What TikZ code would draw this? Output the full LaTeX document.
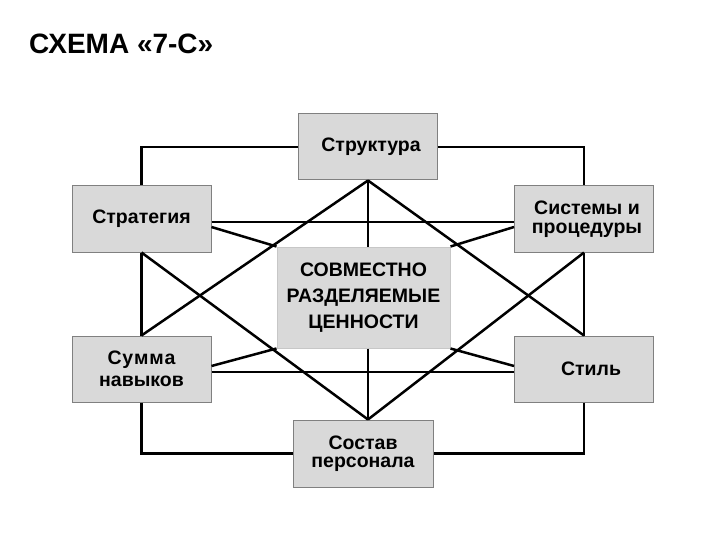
\documentclass[tikz,border=0pt]{standalone}
\usepackage{fontspec}
\setmainfont{Liberation Sans}
\usetikzlibrary{positioning,calc}
\definecolor{Fill}{HTML}{D9D9D9}
\definecolor{Edge}{HTML}{808080}
\definecolor{Ink}{HTML}{000000}
\tikzset{
 box/.style={draw=Edge,fill=Fill,line width=1pt,align=center,inner sep=2pt,
  font=\fontsize{19.5}{18.5}\selectfont\bfseries,minimum width=139pt,minimum height=66pt},
 core/.style={box,draw=Fill!80!Edge,minimum width=173pt,minimum height=101pt,
  font=\fontsize{19.5}{26}\selectfont\bfseries},
 link/.style={line width=2.5pt,draw=Ink}
}
\begin{document}
\begin{tikzpicture}[x=1pt,y=-1pt]
\useasboundingbox (0,0) rectangle (720,540);
\node[anchor=base west,inner sep=0,font=\fontsize{28}{28}\selectfont\bfseries] (title) at (29,54) {СХЕМА «7-С»};
\node[box] (struct) at (368,147) {\hspace*{6pt}Структура};
\node[box] (strat) at (141.5,219) {Стратегия};
\node[box] (sys) at (584,219) {\hspace*{6pt}Системы и\\\hspace*{6pt}процедуры};
\node[core] (shared) at (363.5,297.5) {СОВМЕСТНО\\РАЗДЕЛЯЕМЫЕ\\ЦЕННОСТИ};
\node[box,font=\fontsize{19.5}{22}\selectfont\bfseries] (skills) at (141.5,369) {С\kern.8pt у\kern.8pt м\kern.8pt м\kern.8pt а\\навыков};
\node[box] (style) at (584,369) {\hspace*{14pt}Стиль};
\node[box,minimum width=140pt,minimum height=67pt] (staff) at (363,453.5) {Состав\\персонала};
\draw[link] (struct.west) -| (strat.north);
\draw[link] (struct.east) -| (sys.north);
\draw[link] (strat.south) -- (skills.north);
\draw[link] (sys.south) -- (style.north);
\draw[link] (skills.south) |- (staff.west);
\draw[link] (style.south) |- (staff.east);
\draw[link] ($(strat.east)+(0,3)$) -- ($(sys.west)+(0,3)$);
\draw[link] ($(skills.east)+(0,3)$) -- ($(style.west)+(0,3)$);
\draw[link] (struct.south) -- (struct.south |- shared.north);
\draw[link] (struct.south |- shared.south) -- (struct.south |- staff.north);
\draw[link] (struct.south) -- (skills.north);
\draw[link] (struct.south) -- (style.north);
\draw[link] (strat.south) -- (struct.south |- staff.north);
\draw[link] (sys.south) -- (struct.south |- staff.north);
\draw[link] ($(strat.east)+(0,8)$) -- (shared.north west);
\draw[link] ($(sys.west)+(0,8)$) -- (shared.north east);
\draw[link] ($(skills.east)+(0,-3)$) -- (shared.south west);
\draw[link] ($(style.west)+(0,-3)$) -- (shared.south east);
\end{tikzpicture}
\end{document}
